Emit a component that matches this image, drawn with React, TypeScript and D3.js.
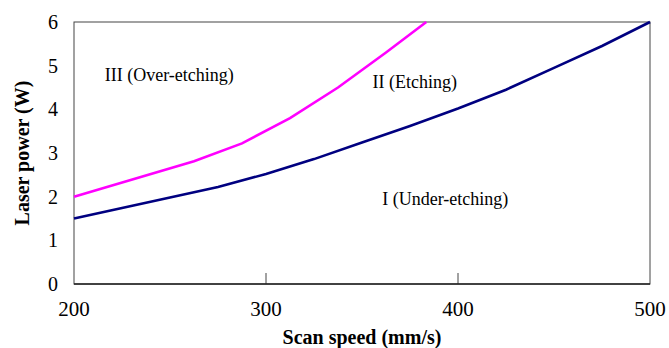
import * as d3 from "d3"
import { useEffect, useRef } from "react"

// under-etching / etching boundary (navy)
const lowerSpeed = [200, 225, 250, 275, 300, 325, 350, 375, 400, 425, 450, 475, 500]
const lowerPower = [1.5, 1.74, 1.98, 2.22, 2.52, 2.86, 3.24, 3.62, 4.02, 4.45, 4.95, 5.45, 6.0]

// etching / over-etching boundary (magenta)
const upperSpeed = [200, 262.5, 287.5, 312.5, 337.5, 362.5, 383.5]
const upperPower = [2.0, 2.81, 3.22, 3.8, 4.5, 5.3, 6.0]

const xTicks = [200, 300, 400, 500]
const yTicks = [0, 1, 2, 3, 4, 5, 6]

const regionLabels = [
    { text: "III (Over-etching)", x: 216, y: 4.66 },
    { text: "II (Etching)", x: 355.5, y: 4.5 },
    { text: "I (Under-etching)", x: 360.5, y: 1.8 },
]

const FONT = "'Liberation Serif', 'Times New Roman', serif"

const App = () => {
    const svgRef = useRef(null)

    useEffect(() => {
        const svg = d3.select(svgRef.current)
        svg.selectAll("*").remove()

        const left = 74, right = 650, top = 22, bottom = 284
        const x = d3.scaleLinear().domain([200, 500]).range([left, right])
        const y = d3.scaleLinear().domain([0, 6]).range([bottom, top])

        svg.append("rect")
            .attr("x", left).attr("y", top)
            .attr("width", right - left).attr("height", bottom - top)
            .attr("fill", "none").attr("stroke", "#444").attr("stroke-width", 1)

        // inward ticks on the x axis
        svg.selectAll(".xtick").data(xTicks.slice(1, -1)).join("line")
            .attr("x1", d => x(d)).attr("x2", d => x(d))
            .attr("y1", bottom).attr("y2", bottom - 11)
            .attr("stroke", "#444")
        svg.append("line")
            .attr("x1", left).attr("x2", right).attr("y1", bottom).attr("y2", bottom)
            .attr("stroke", "#222").attr("stroke-width", 1.5)

        svg.selectAll(".xl").data(xTicks).join("text")
            .attr("x", d => x(d)).attr("y", 316)
            .attr("text-anchor", "middle")
            .attr("font-family", FONT).attr("font-size", 21)
            .text(d => d)

        svg.selectAll(".yl").data(yTicks).join("text")
            .attr("x", 58).attr("y", d => y(d) + 7)
            .attr("text-anchor", "end")
            .attr("font-family", FONT).attr("font-size", 20)
            .text(d => d)

        const line = d3.line().x(d => x(d[0])).y(d => y(d[1]))

        svg.append("path")
            .datum(lowerSpeed.map((s, i) => [s, lowerPower[i]]))
            .attr("d", line)
            .attr("fill", "none").attr("stroke", "#000080").attr("stroke-width", 2.6)

        svg.append("path")
            .datum(upperSpeed.map((s, i) => [s, upperPower[i]]))
            .attr("d", line)
            .attr("fill", "none").attr("stroke", "#ff00ff").attr("stroke-width", 2.6)

        svg.selectAll(".rl").data(regionLabels).join("text")
            .attr("x", d => x(d.x)).attr("y", d => y(d.y))
            .attr("font-family", FONT).attr("font-size", 18)
            .text(d => d.text)

        svg.append("text")
            .attr("x", (left + right) / 2).attr("y", 344)
            .attr("text-anchor", "middle")
            .attr("font-family", FONT).attr("font-size", 20).attr("font-weight", "bold")
            .text("Scan speed (mm/s)")

        svg.append("text")
            .attr("transform", `translate(29, 153) rotate(-90)`)
            .attr("text-anchor", "middle")
            .attr("font-family", FONT).attr("font-size", 20).attr("font-weight", "bold")
            .text("Laser power (W)")
    }, [])

    return (
        <svg ref={svgRef} width={669} height={348}
            style={{ position: "absolute", left: 0, top: 0, background: "#fff" }}></svg>
    )
}

export default App
